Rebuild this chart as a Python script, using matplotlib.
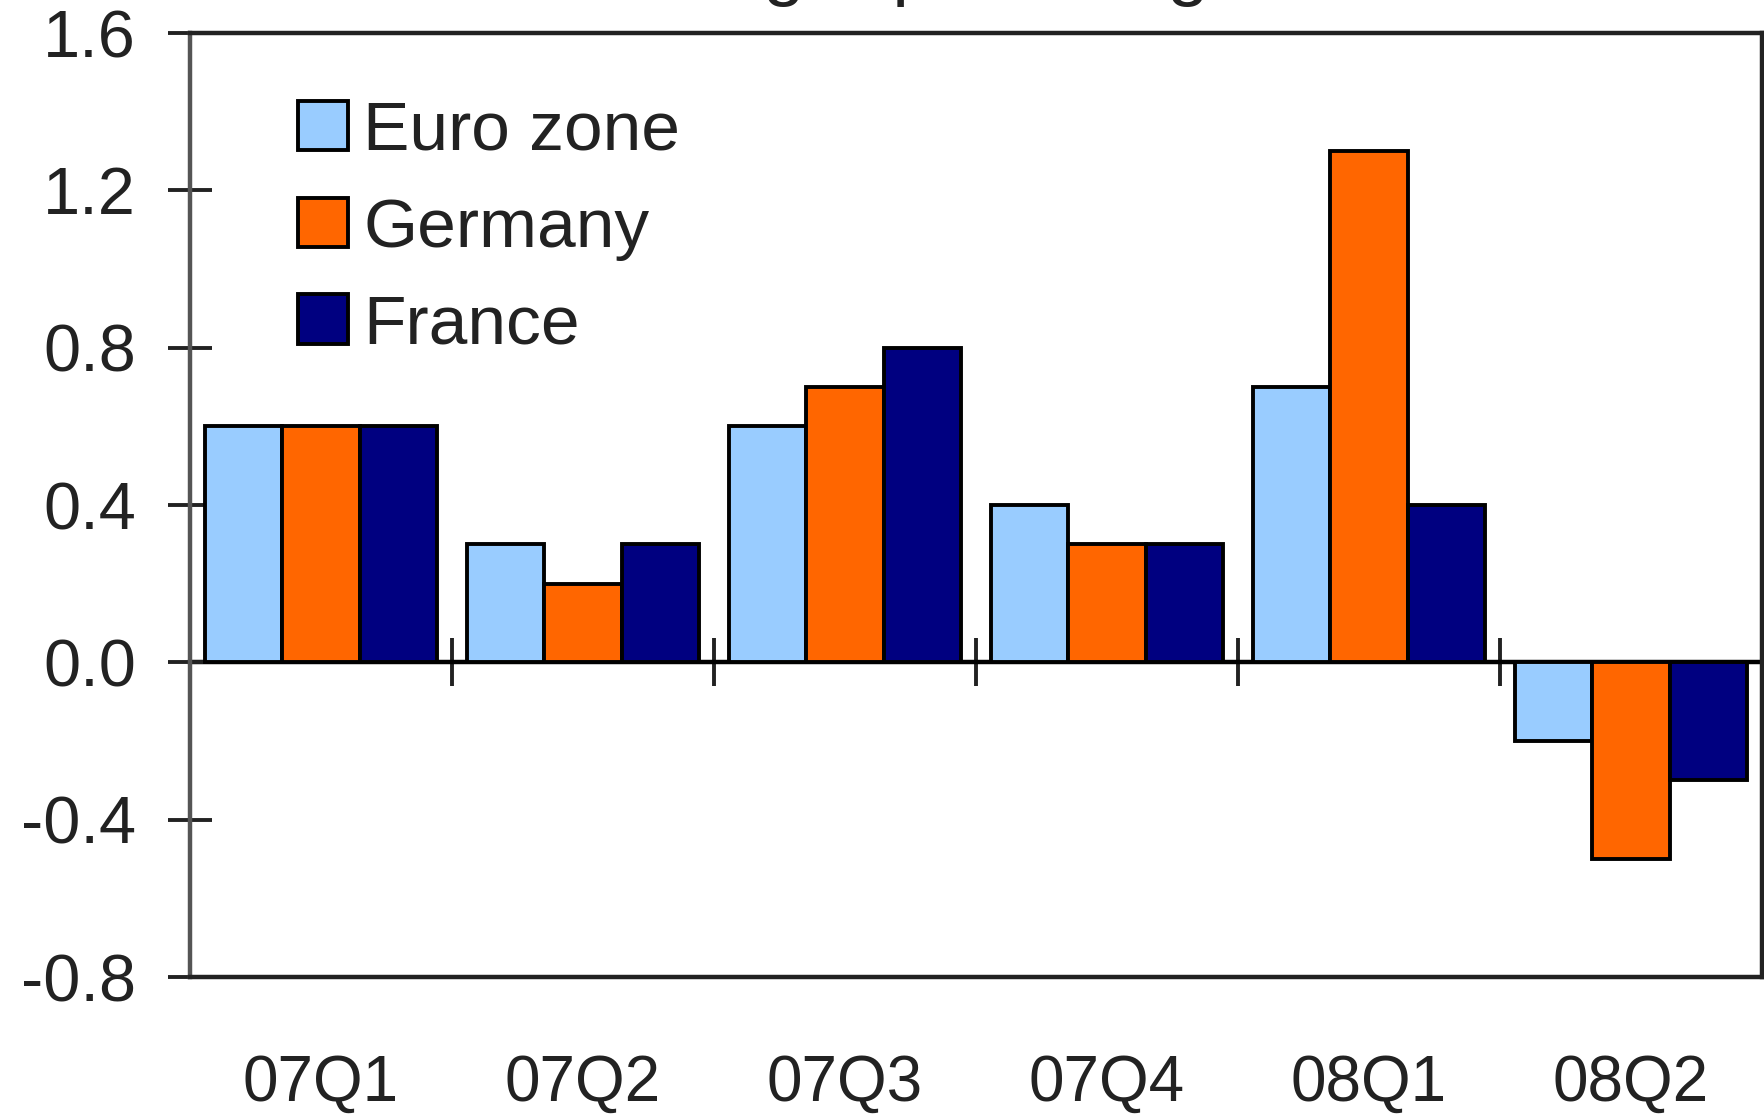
import numpy as np
import matplotlib
matplotlib.use("Agg")
import matplotlib.pyplot as plt
from matplotlib.patches import Patch

plt.rcParams['font.family'] = ['Liberation Sans', 'DejaVu Sans']

# Quarterly GDP growth, % change on the previous quarter
quarters = ["07Q1", "07Q2", "07Q3", "07Q4", "08Q1", "08Q2"]
series_names = ["Euro zone", "Germany", "France"]
euro_zone = [0.6, 0.3, 0.6, 0.4, 0.7, -0.2]
germany = [0.6, 0.2, 0.7, 0.3, 1.3, -0.5]
france = [0.6, 0.3, 0.8, 0.3, 0.4, -0.3]
y_ticks = [-0.8, -0.4, 0.0, 0.4, 0.8, 1.2, 1.6]
title = "% change quarter ago"

colors = ["#99CCFF", "#FF6600", "#000080"]
ink = "#222222"

W, H = 1764, 1114
fig = plt.figure(figsize=(W / 100, H / 100), dpi=100)
left, right, top, bottom = 190, 1762, 33, 977
ax = fig.add_axes([left / W, 1 - bottom / H, (right - left) / W, (bottom - top) / H])

x = np.arange(len(quarters))
bar_w = 0.295
for i, (vals, col) in enumerate(zip([euro_zone, germany, france], colors)):
    ax.bar(x + (i - 1) * bar_w, vals, width=bar_w, color=col,
           edgecolor="black", linewidth=2.8, zorder=2)

ymin, ymax = y_ticks[0], y_ticks[-1]
ax.set_xlim(-0.5, len(quarters) - 0.5)
ax.set_ylim(ymin, ymax)

# frame
for side in ["top", "bottom", "right"]:
    ax.spines[side].set_linewidth(3.2)
    ax.spines[side].set_color(ink)
ax.spines["left"].set_linewidth(3.2)
ax.spines["left"].set_color("#555555")

# value axis
ax.set_yticks(y_ticks)
ax.set_yticklabels([f"{v:.1f}" for v in y_ticks])
ax.tick_params(axis="y", direction="inout", length=32, width=2.8,
               color=ink, labelsize=48, labelcolor=ink, pad=23)

# category labels along the bottom of the frame
ax.set_xticks(x)
ax.set_xticklabels(quarters)
ax.tick_params(axis="x", length=0, labelsize=46, labelcolor=ink, pad=55)

# category axis crossing at zero, with separators between quarters
zero_frac = (0 - ymin) / (ymax - ymin)
sec = ax.secondary_xaxis(zero_frac)
sec.set_xticks(np.arange(len(quarters) - 1) + 0.5)
sec.set_xticklabels([])
sec.tick_params(axis="x", direction="inout", length=34, width=2.8, color=ink)
sec.spines["bottom"].set_linewidth(3.2)
sec.spines["bottom"].set_color("black")

# legend
handles = [Patch(facecolor=c, edgecolor="black", linewidth=2.8) for c in colors]
fig.legend(handles, series_names, loc="upper left",
           bbox_to_anchor=(298 / W, 1 - 100 / H), bbox_transform=fig.transFigure,
           frameon=False, fontsize=50, borderpad=0, borderaxespad=0,
           handlelength=0.72, handleheight=0.72, handletextpad=0.22,
           labelspacing=0.47, labelcolor=ink)

fig.text(0.5, 1 + 8 / H, title, ha="center", va="baseline", fontsize=54, color=ink)

fig.savefig("out.png", dpi=100)
